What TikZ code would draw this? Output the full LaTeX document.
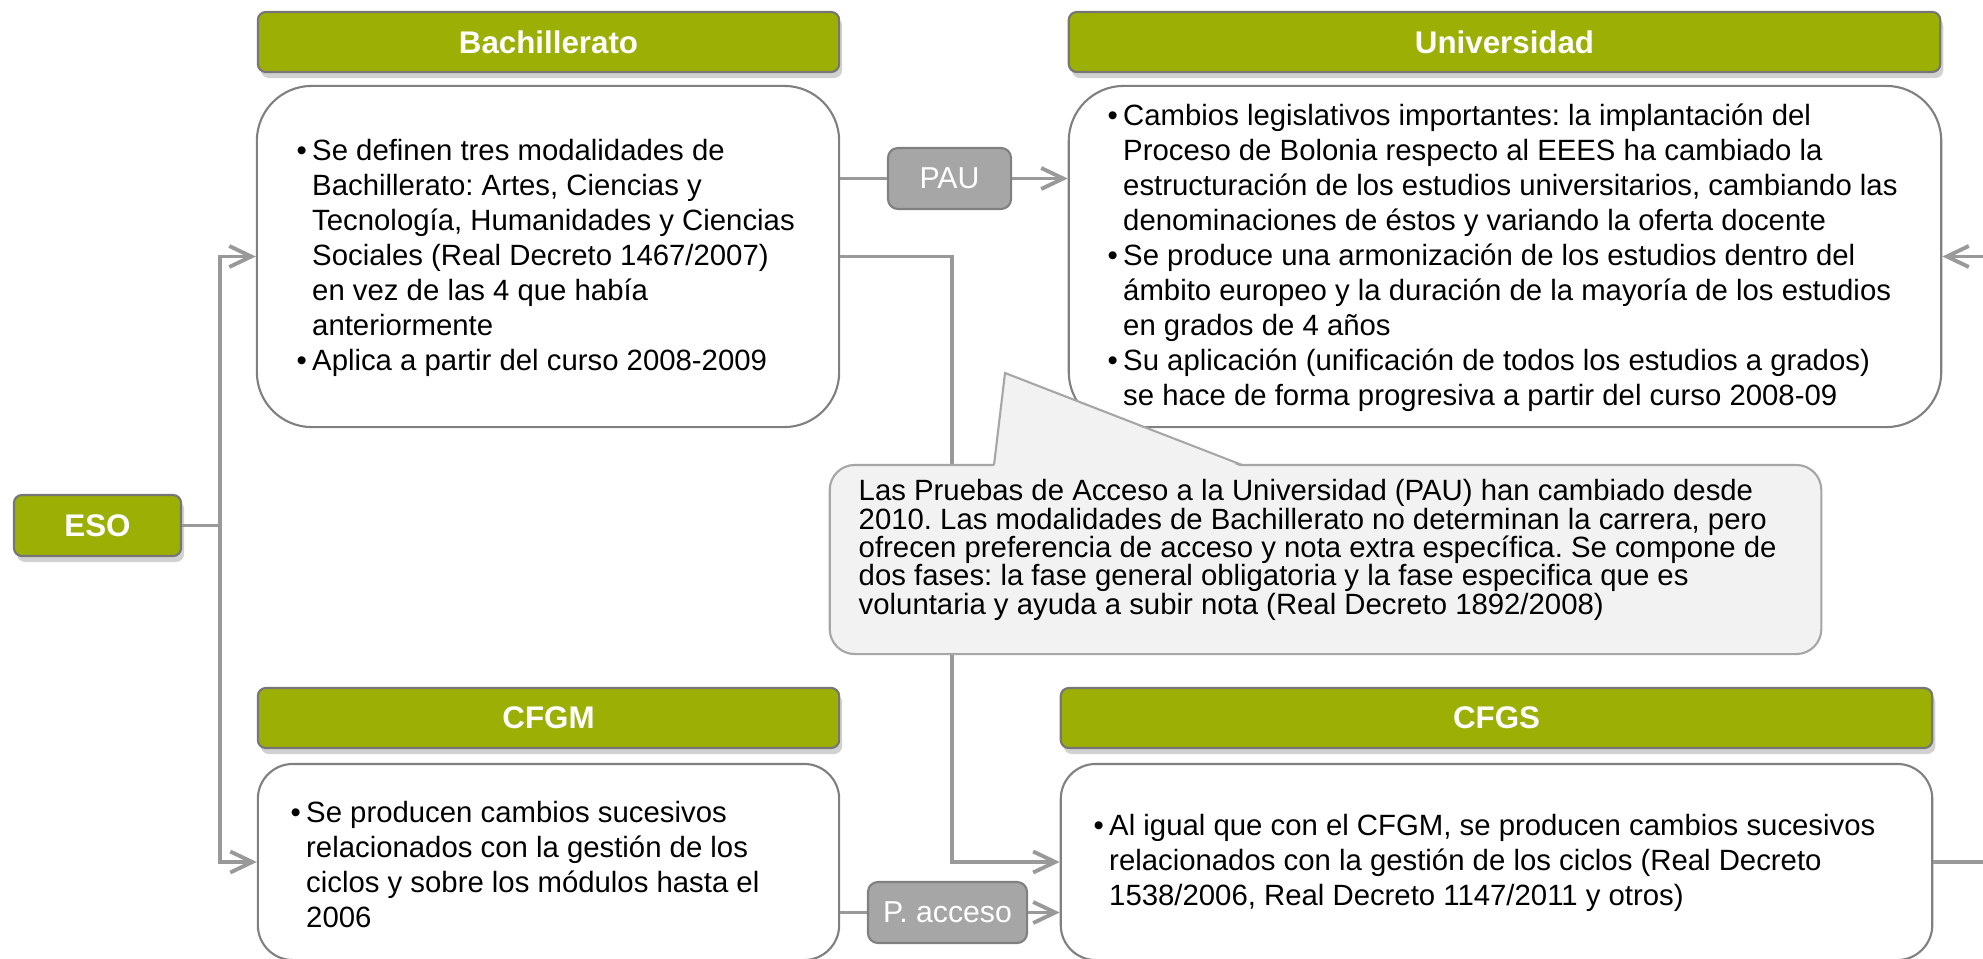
\documentclass[tikz,border=0pt]{standalone}
\usepackage{fontspec}
\setmainfont{Liberation Sans}
\usetikzlibrary{arrows.meta,shadows}
\lineskiplimit=-100pt
\frenchspacing

\definecolor{verde}{RGB}{155,175,5}
\definecolor{bordeverde}{RGB}{118,118,118}
\definecolor{lineagris}{RGB}{153,153,153}
\definecolor{etiquetagris}{RGB}{166,166,166}
\definecolor{bordegris}{RGB}{128,128,128}
\definecolor{fondonota}{RGB}{242,242,242}

\newcommand{\bul}{\makebox[0.155cm][l]{\textbullet}}
\newcommand{\sang}{\hspace*{0.155cm}}

\tikzset{
	cabecera/.style={draw=bordeverde,line width=0.6pt,fill=verde,rounded corners=0.08cm,text=white,font=\fontsize{8.9}{10}\selectfont\bfseries,drop shadow={shadow xshift=0.03cm,shadow yshift=-0.06cm,opacity=0.3,fill=black!60}},
	cuerpo/.style={draw=bordegris,line width=0.6pt,fill=white,rounded corners=0.55cm},
	texto/.style={anchor=west,align=left,inner sep=0pt,font=\fontsize{8.34}{9.96}\selectfont},
	etiqueta/.style={draw=bordegris,line width=0.6pt,fill=etiquetagris,rounded corners=0.1cm,text=white,font=\fontsize{8.6}{10}\selectfont},
	conector/.style={draw=lineagris,line width=1.1pt},
	flecha/.style={conector,-{Straight Barb[length=2.2mm,width=2.1mm]}},
	nota/.style={draw=etiquetagris,line width=0.6pt,fill=fondonota,rounded corners=0.25cm}
}

\begin{document}
\begin{tikzpicture}[x=0.01cm,y=-0.01cm]
	\useasboundingbox (0,0) rectangle (1983,958);
	\clip (0,0) rectangle (1983,958);

	\node[cabecera,minimum width=1.67cm,minimum height=0.61cm] (eso) at (97.5,525.5) {ESO};

	\node[cabecera,minimum width=5.81cm,minimum height=0.6cm] (bach) at (548.5,42) {Bachillerato};
	\node[cuerpo,minimum width=5.82cm,minimum height=3.41cm] (bachcaja) at (548,256.5) {};
	\node[texto] (bachtxt) at (296,258) {\bul Se definen tres modalidades de\\
		\sang Bachillerato: Artes, Ciencias y\\
		\sang Tecnología, Humanidades y Ciencias\\
		\sang Sociales (Real Decreto 1467/2007)\\
		\sang en vez de las 4 que había\\
		\sang anteriormente\\
		\bul Aplica a partir del curso 2008-2009};

	\node[cabecera,minimum width=8.71cm,minimum height=0.6cm] (univ) at (1504.5,42) {Universidad};
	\node[cuerpo,minimum width=8.72cm,minimum height=3.41cm] (univcaja) at (1505,256.5) {};
	\node[texto] (univtxt) at (1107,257.5) {\bul Cambios legislativos importantes: la implantación del\\
		\sang Proceso de Bolonia respecto al EEES ha cambiado la\\
		\sang estructuración de los estudios universitarios, cambiando las\\
		\sang denominaciones de éstos y variando la oferta docente\\
		\bul Se produce una armonización de los estudios dentro del\\
		\sang ámbito europeo y la duración de la mayoría de los estudios\\
		\sang en grados de 4 años\\
		\bul Su aplicación (unificación de todos los estudios a grados)\\
		\sang se hace de forma progresiva a partir del curso 2008-09};

	\node[etiqueta,minimum width=1.23cm,minimum height=0.61cm] (pau) at (949.5,178.5) {PAU};

	\node[cabecera,minimum width=5.81cm,minimum height=0.6cm] (cfgm) at (548.5,718) {CFGM};
	\node[cuerpo,rounded corners=0.35cm,minimum width=5.81cm,minimum height=1.96cm] (cfgmcaja) at (548.5,862) {};
	\node[texto] (cfgmtxt) at (290,864.5) {\bul Se producen cambios sucesivos\\
		\sang relacionados con la gestión de los\\
		\sang ciclos y sobre los módulos hasta el\\
		\sang 2006};

	\node[cabecera,minimum width=8.71cm,minimum height=0.6cm] (cfgs) at (1496.5,718) {CFGS};
	\node[cuerpo,rounded corners=0.35cm,minimum width=8.71cm,minimum height=1.96cm] (cfgscaja) at (1496.5,862) {};
	\node[texto] (cfgstxt) at (1093,863) {\bul Al igual que con el CFGM, se producen cambios sucesivos\\
		\sang relacionados con la gestión de los ciclos (Real Decreto\\
		\sang 1538/2006, Real Decreto 1147/2011 y otros)};

	\node[etiqueta,minimum width=1.59cm,minimum height=0.61cm] (pacc) at (947.5,912.5) {P. acceso};

	\draw[flecha] (eso.east) -- ++(38,0) |- (bachcaja.west);
	\draw[flecha] (eso.east) -- ++(38,0) |- (cfgmcaja.west);
	\draw[conector] (bachcaja.east |- pau.west) -- (pau.west);
	\draw[flecha] (pau.east) -- (pau.east -| univcaja.west);
	\draw[flecha] (bachcaja.east) -- ++(112,0) |- (cfgscaja.west);
	\draw[conector] (cfgmcaja.east |- pacc.west) -- (pacc.west);
	\draw[flecha] (pacc.east) -- (pacc.east -| cfgscaja.west);
	\draw[flecha] (cfgscaja.east) -- ++(100,0) |- (univcaja.east);

	\node[nota,minimum width=9.91cm,minimum height=1.89cm] (nota) at (1325.5,559.5) {};
	\fill[fondonota] (994,467) -- (1005,373) -- (1242,467) -- cycle;
	\draw[draw=etiquetagris,line width=0.6pt] (994,465) -- (1005,373) -- (1242,465);
	\node[texto,font=\fontsize{8.34}{8.05}\selectfont] (notatxt) at (858,550) {Las Pruebas de Acceso a la Universidad (PAU) han cambiado desde\\
		2010. Las modalidades de Bachillerato no determinan la carrera, pero\\
		ofrecen preferencia de acceso y nota extra específica. Se compone de\\
		dos fases: la fase general obligatoria y la fase especifica que es\\
		voluntaria y ayuda a subir nota (Real Decreto 1892/2008)};
\end{tikzpicture}
\end{document}
